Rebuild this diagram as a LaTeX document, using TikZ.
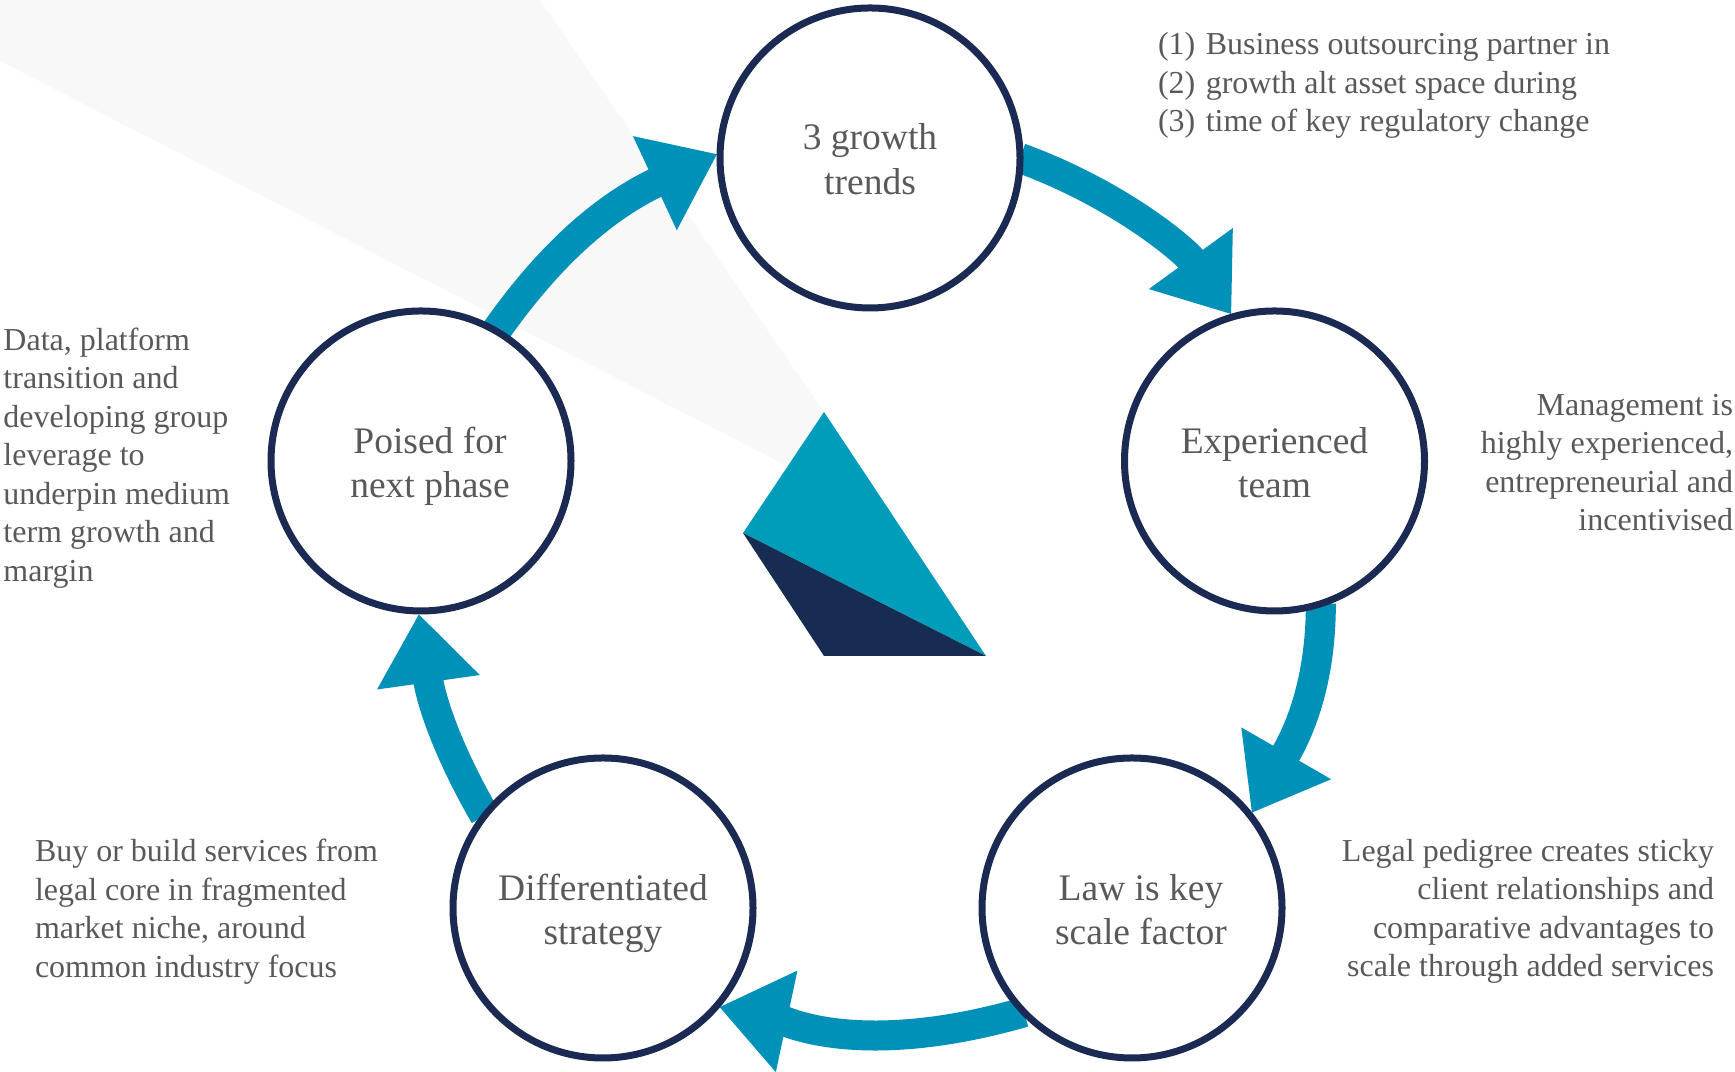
\documentclass[tikz,border=0pt]{standalone}
\usepackage{fontspec}
\setmainfont{Liberation Serif}
\usetikzlibrary{arrows.meta,backgrounds}

\definecolor{ringnavy}{HTML}{1B2A52}
\definecolor{logonavy}{HTML}{172C52}
\definecolor{logocyan}{HTML}{009DBB}
\definecolor{flowblue}{HTML}{0091B8}
\definecolor{beamgrey}{HTML}{F8F8F8}
\definecolor{textgrey}{HTML}{595959}

\tikzset{
    stage/.style={circle, draw=ringnavy, line width=0.07cm, fill=white, minimum size=3.00cm,
        inner sep=0pt, outer sep=0pt, align=center, text=textgrey,
        font=\fontsize{10.67pt}{12.8pt}\selectfont},
    note/.style={inner sep=0pt, outer sep=0pt, text=textgrey,
        font=\fontsize{9.1pt}{10.95pt}\selectfont},
    flow/.style={flowblue, line width=0.30cm, shorten >=0.03cm,
        -{Triangle[length=0.69cm,width=0.99cm]}}
}
\newcommand{\stagetext}[2]{\rule{0pt}{12.1pt}#1\\\strut #2}
\newcommand{\nudge}{\hspace*{0.18cm}}

\begin{document}
\begin{tikzpicture}
    \useasboundingbox (0,0) rectangle (17.35,10.72);

    % Stages
    \node[stage] (growth) at (8.70,9.14) {\stagetext{3 growth}{trends}};
    \node[stage] (team) at (12.745,6.11) {\stagetext{Experienced}{team}};
    \node[stage] (law) at (11.32,1.64) {\stagetext{\nudge Law is key}{\nudge scale factor}};
    \node[stage] (strategy) at (6.03,1.64) {\stagetext{Differentiated}{strategy}};
    \node[stage] (poised) at (4.21,6.11) {\stagetext{\nudge Poised for}{\nudge next phase}};

    % Notes
    \node[note, anchor=west, align=left] (trendsnote) at (11.58,9.865)
        {(1)\hspace{0.105cm}Business outsourcing partner in\\(2)\hspace{0.105cm}growth alt asset space during\\(3)\hspace{0.105cm}time of key regulatory change};
    \node[note, anchor=east, align=right] (teamnote) at (17.33,6.095)
        {Management is\\highly experienced,\\entrepreneurial and\\incentivised};
    \node[note, anchor=east, align=right] (lawnote) at (17.14,1.605)
        {Legal pedigree creates sticky\\client relationships and\\comparative advantages to\\scale through added services};
    \node[note, anchor=west, align=left] (strategynote) at (0.35,1.605)
        {Buy or build services from\\legal core in fragmented\\market niche, around\\common industry focus};
    \node[note, anchor=west, align=left] (poisednote) at (0.035,6.14)
        {Data, platform\\transition and\\developing group\\leverage to\\underpin medium\\term growth and\\margin};

    \begin{pgfonlayer}{background}
        % Beam
        \fill[beamgrey] (0,10.72) -- (5.40,10.72) -- (8.24,6.60) -- (7.89,6.05) -- (0,10.11) -- cycle;

        % Logo
        \fill[logocyan] (8.24,6.60) -- (7.43,5.39) -- (9.86,4.16) -- cycle;
        \fill[logonavy] (7.43,5.39) -- (8.24,4.16) -- (9.86,4.16) -- cycle;

        % Arrows
        \draw[flow] (growth.0) to[out=-20, in=126, in looseness=0.8] (team.106);
        \draw[flow] (team.-72) to[out=-90, in=60] (law.38);
        \draw[flow] (law.224) to[out=196, in=-12, out looseness=1.4, in looseness=0.6] (strategy.-41);
        \draw[flow] (strategy.142) to[out=120, in=-82] (poised.-91);
        \draw[flow] (poised.60) to[out=55, in=205] (growth.178);
    \end{pgfonlayer}
\end{tikzpicture}
\end{document}
